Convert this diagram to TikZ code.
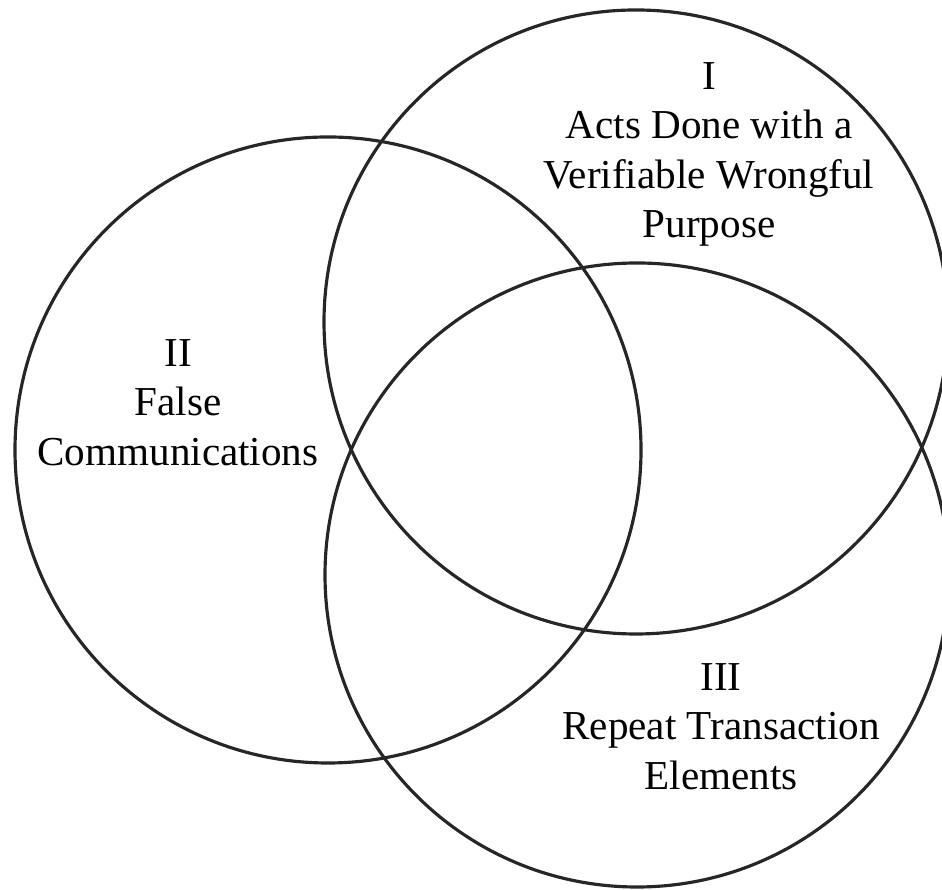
\documentclass[tikz,border=0pt]{standalone}
\usepackage{fontspec}
\setmainfont{Liberation Serif}
\usetikzlibrary{positioning}

\tikzset{
  ring/.style={draw=black!85, line width=0.9pt},
  label/.style={align=center, inner sep=0pt, anchor=north, font=\fontsize{11.7}{14}\selectfont}
}

\begin{document}
\begin{tikzpicture}
            % Define the frame
            \useasboundingbox (0,0) rectangle (9.42,8.90);

            % Define the three circle centres
            \coordinate (cI) at (6.36,5.68);
            \coordinate (cII) at (3.28,4.40);
            \coordinate (cIII) at (6.37,3.15);

            % Draw the three sets
            \draw[ring] (cI) circle (3.12);
            \draw[ring] (cII) circle (3.13);
            \draw[ring] (cIII) circle (3.12);

            % Add labels for the sets
            \node[label] (tI) at (7.09,8.28) {I\\Acts Done with a\\Verifiable Wrongful\\Purpose};
            \node[label] (tII) at (1.78,5.51) {II\\False\\Communications};
            \node[label] (tIII) at (7.21,2.27) {III\\Repeat Transaction\\Elements};
        \end{tikzpicture}
\end{document}
